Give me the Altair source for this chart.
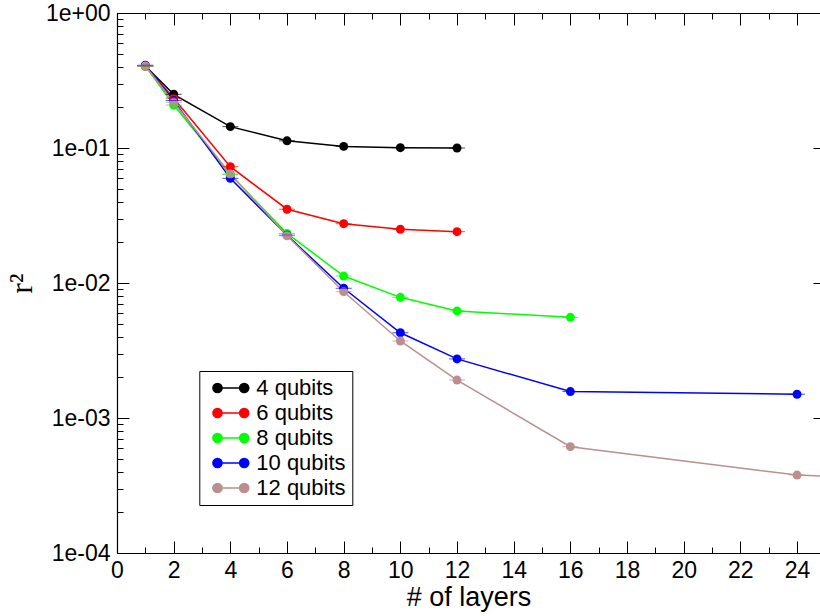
import altair as alt
import pandas as pd

# ---------------- data ----------------
series_names = ["4 qubits", "6 qubits", "8 qubits", "10 qubits", "12 qubits"]
series_colors = ["#000000", "#ff0000", "#00ff00", "#0000ff", "#bc8f8f"]

layers_4 = [1, 2, 4, 6, 8, 10, 12]
r2_4 = [0.405, 0.250, 0.144, 0.113, 0.1028, 0.1005, 0.1000]

layers_6 = [1, 2, 4, 6, 8, 10, 12]
r2_6 = [0.405, 0.234, 0.0727, 0.0352, 0.0275, 0.0250, 0.0240]

layers_8 = [1, 2, 4, 6, 8, 10, 12, 16]
r2_8 = [0.405, 0.208, 0.0635, 0.0233, 0.01127, 0.00783, 0.00621, 0.00557]

layers_10 = [1, 2, 4, 6, 8, 10, 12, 16, 24]
r2_10 = [0.410, 0.225, 0.0596, 0.0226, 0.00914, 0.00428, 0.00274, 0.00157, 0.00150]

layers_12 = [1, 2, 4, 6, 8, 10, 12, 16, 24, 32]
r2_12 = [0.405, 0.218, 0.0642, 0.0224, 0.00862, 0.00372, 0.00191, 0.000613, 0.000378, 0.00032]

x_tick_values = [0, 2, 4, 6, 8, 10, 12, 14, 16, 18, 20, 22, 24]
x_tick_labels = ["0", "2", "4", "6", "8", "10", "12", "14", "16", "18", "20", "22", "24"]
x_minor_values = [1, 3, 5, 7, 9, 11, 13, 15, 17, 19, 21, 23]
y_tick_values = [1, 0.1, 0.01, 0.001, 0.0001]
y_tick_labels = ["1e+00", "1e-01", "1e-02", "1e-03", "1e-04"]
y_minor_values = [m * d for d in [1e-4, 1e-3, 1e-2, 1e-1] for m in range(2, 10)]

rows = []
for name, xs, ys in zip(series_names,
                        [layers_4, layers_6, layers_8, layers_10, layers_12],
                        [r2_4, r2_6, r2_8, r2_10, r2_12]):
    for xv, yv in zip(xs, ys):
        rows.append({"series": name, "layers": xv, "r2": yv})
df = pd.DataFrame(rows)

# ---------------- layout ----------------
W, H = 703, 540
FONT = "Liberation Sans"

xscale = alt.Scale(domain=[0, 24.81], nice=False, zero=False)
yscale = alt.Scale(type="log", domain=[1e-4, 1], nice=False)
cscale = alt.Scale(domain=series_names, range=series_colors)

x_label_expr = "[" + ",".join("'%s'" % s for s in x_tick_labels) + "][round(datum.value/2)]"
y_label_expr = "[" + ",".join("'%s'" % s for s in y_tick_labels) + "][round(-log(datum.value)/LN10)]"

# legend glyph: a short line with a dot at each end
legend_path = ("M0.218,0L5.07,0 "
               "M-0.618,0A0.836,0.836 0 1,0 1.054,0A0.836,0.836 0 1,0 -0.618,0Z "
               "M4.234,0A0.836,0.836 0 1,0 5.906,0A0.836,0.836 0 1,0 4.234,0Z")

legend = alt.Legend(
    title=None, orient="none", legendX=82.3, legendY=358,
    symbolType=legend_path, symbolSize=121, symbolStrokeWidth=1.5,
    labelFont=FONT, labelFontSize=22, labelColor="black", labelOffset=29,
    strokeColor="black", fillColor="white", padding=6, rowPadding=3)

base = alt.Chart(df)

X = "layers:Q"
Y = "r2:Q"

lines = base.mark_line(strokeWidth=1.5, clip=True).encode(
    x=alt.X(X, scale=xscale, axis=alt.Axis(
        orient="bottom", values=x_tick_values, labelExpr=x_label_expr,
        ticks=False, labelFontSize=23, labelFont=FONT, labelColor="black",
        labelPadding=6, labelFlush=False,
        title="# of layers", titleFont=FONT, titleFontSize=27,
        titleFontWeight="normal", titleColor="black", titlePadding=2,
        domainColor="black", domainWidth=1.2, grid=False)),
    y=alt.Y(Y, scale=yscale, axis=alt.Axis(
        orient="left", values=y_tick_values, labelExpr=y_label_expr,
        ticks=False, labelFontSize=23, labelFont=FONT, labelColor="black",
        labelPadding=7, labelFlush=False,
        title="r²", titleFont="Liberation Serif", titleFontSize=32,
        titleFontWeight="normal", titleColor="black", titlePadding=7,
        domainColor="black", domainWidth=1.2, grid=False)),
    color=alt.Color("series:N", scale=cscale, legend=legend),
)

points = base.mark_point(filled=True, size=80, opacity=1, clip=True).encode(
    x=alt.X(X, scale=xscale, axis=alt.Axis(
        orient="top", offset=-H, values=x_tick_values, labels=False,
        domain=False, tickSize=12, tickColor="black", title=None, grid=False)),
    y=alt.Y(Y, scale=yscale, axis=alt.Axis(
        orient="right", offset=-W, values=y_tick_values, labels=False,
        domain=False, tickSize=12, tickColor="black", title=None, grid=False)),
    color=alt.Color("series:N", scale=cscale, legend=legend),
)

caps = base.mark_tick(orient="horizontal", size=16, thickness=1, clip=True).encode(
    x=alt.X(X, scale=xscale, axis=alt.Axis(
        orient="top", offset=-H, values=x_minor_values, labels=False,
        domain=False, tickSize=6, tickColor="black", title=None, grid=False)),
    y=alt.Y(Y, scale=yscale, axis=alt.Axis(
        orient="right", offset=-W, values=y_minor_values, labels=False,
        domain=False, tickSize=6, tickColor="black", title=None, grid=False)),
    color=alt.Color("series:N", scale=cscale, legend=None),
)

frame_major = base.mark_point(opacity=0, clip=True).encode(
    x=alt.X(X, scale=xscale, axis=alt.Axis(
        orient="bottom", offset=-H, values=x_tick_values, labels=False,
        domain=True, domainColor="black", domainWidth=1.2,
        tickSize=12, tickColor="black", title=None, grid=False)),
    y=alt.Y(Y, scale=yscale, axis=alt.Axis(
        orient="left", offset=-W, values=y_tick_values, labels=False,
        domain=False, tickSize=7, tickColor="black", title=None, grid=False)),
)

frame_minor = base.mark_point(opacity=0, clip=True).encode(
    x=alt.X(X, scale=xscale, axis=alt.Axis(
        orient="bottom", offset=-H, values=x_minor_values, labels=False,
        domain=False, tickSize=6, tickColor="black", title=None, grid=False)),
    y=alt.Y(Y, scale=yscale, axis=None),
)

chart = alt.layer(lines, points, caps, frame_major, frame_minor).resolve_axis(
    x="independent", y="independent"
).properties(
    width=W, height=H,
    autosize=alt.AutoSizeParams(type="none"),
    padding={"left": 117, "top": 13, "right": 0, "bottom": 63},
).configure_view(stroke=None).configure(font=FONT)

chart.save("out.html", embed_options={"renderer": "svg", "actions": False})
